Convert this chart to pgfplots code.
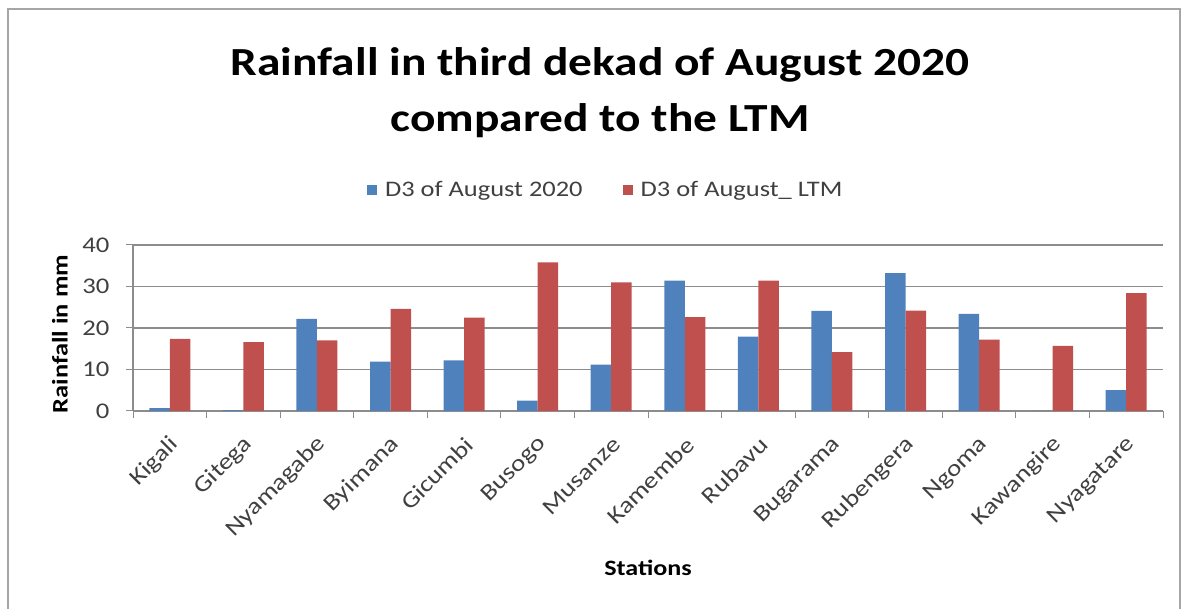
\documentclass[border=0pt]{standalone}
\usepackage{fontspec}
\setmainfont{Carlito}[FakeStretch=1.19]
\usepackage{pgfplots}
\pgfplotsset{compat=1.18}
\usepackage{pgfplotstable}
\definecolor{xblue}{HTML}{4F81BD}
\definecolor{xred}{HTML}{C0504D}
\definecolor{gridc}{HTML}{8C8C8C}
\definecolor{txt}{HTML}{404040}
\pgfplotstableread{
x a b
0 0.7 17.4
1 0.2 16.6
2 22.2 17.0
3 11.9 24.6
4 12.2 22.5
5 2.5 35.8
6 11.2 31.0
7 31.4 22.6
8 17.9 31.4
9 24.1 14.2
10 33.2 24.2
11 23.4 17.2
12 0 15.7
13 5.0 28.4
}\datatable
\begin{document}
\begin{tikzpicture}
\path[use as bounding box] (0bp,0bp) rectangle (1182bp,609bp);
\draw[gray!70, line width=1.5bp] (8bp,-20bp) -- (8bp,600bp) -- (1180bp,600bp) -- (1180bp,-20bp);
\node[font=\fontsize{40}{48}\selectfont\bfseries, anchor=base] at (600bp,533bp) {Rainfall in third dekad of August 2020};
\node[font=\fontsize{40}{48}\selectfont\bfseries, anchor=base] at (600bp,477bp) {compared to the LTM};
\begin{axis}[
  at={(133bp,198bp)}, anchor=south west,
  scale only axis, width=1030bp, height=166bp,
  ybar=0pt, bar width=20.5bp,
  ymin=0, ymax=40, ytick={0,10,20,30,40},
  xmin=-0.5, xmax=13.5,
  xtick={0,...,13},
  xticklabels={Kigali,Gitega,Nyamagabe,Byimana,Gicumbi,Busogo,Musanze,Kamembe,Rubavu,Bugarama,Rubengera,Ngoma,Kawangire,Nyagatare},
  minor xtick={-0.5,0.5,...,13.5},
  major x tick style={draw=none},
  minor x tick style={draw=gridc, line width=1bp},
  y tick style={draw=gridc, line width=1bp},
  axis x line*=bottom, axis y line*=left,
  axis line style={gridc, line width=1.2bp, -},
  tick align=outside,
  major tick length=7bp, minor tick length=7bp,
  ymajorgrids, grid style={gridc, line width=1.2bp},
  /pgf/number format/assume math mode=true,
  yticklabel style={font=\fontsize{22.5}{24}\selectfont, color=txt, xshift=-13bp},
  xticklabel style={rotate=45, anchor=east, font=\fontsize{23}{26}\selectfont, color=txt, xshift=-9bp, yshift=-20bp},
  ylabel={Rainfall in mm},
  ylabel style={at={(-0.0709,0.464)}, anchor=center, font=\fontsize{22.3}{24}\selectfont\bfseries},
  xlabel={Stations},
  xlabel style={at={(0.5,-0.946)}, anchor=center, font=\fontsize{22}{24}\selectfont\bfseries},
  legend style={at={(0.459,1.331)}, anchor=center, draw=none, legend columns=2,
    font=\fontsize{22.3}{24}\selectfont, text=txt,
    /tikz/every even column/.append style={column sep=38bp}},
  legend image code/.code={\fill[#1] (0bp,-5bp) rectangle (10bp,5bp); \path (16bp,0bp);},
]
\addplot[fill=xblue, draw=none] table[x=x,y=a] {\datatable};
\addplot[fill=xred, draw=none] table[x=x,y=b] {\datatable};
\legend{D3 of August 2020, D3 of August\_ LTM}
\end{axis}
\end{tikzpicture}
\end{document}
